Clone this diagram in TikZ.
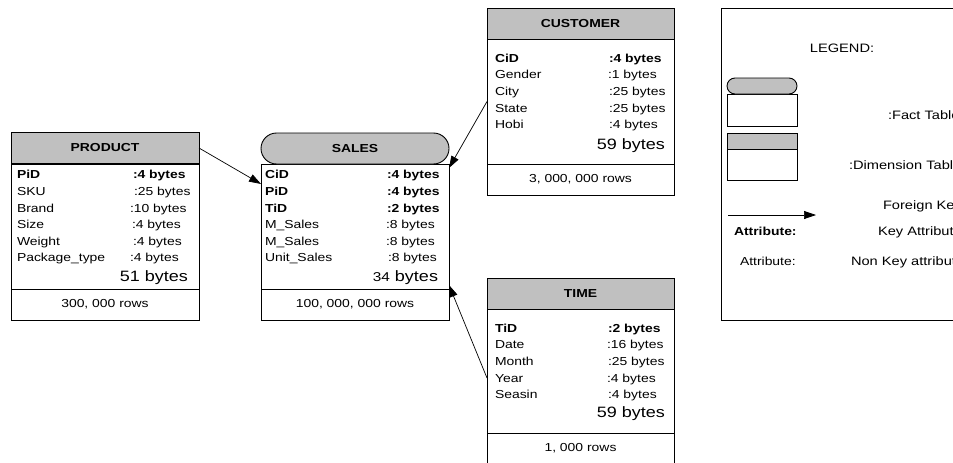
\documentclass[tikz,border=0pt]{standalone}
\usepackage{fontspec}
\setmainfont{Liberation Sans}[FakeStretch=1.2]
\usetikzlibrary{shapes.misc,arrows.meta}
\definecolor{hdrgray}{RGB}{192,192,192}
\newcommand{\rowfont}{\fontsize{11.6}{14}\selectfont}
\newcommand{\sumfont}{\fontsize{15}{18}\selectfont}
\newcommand{\legfont}{\fontsize{12.2}{15}\selectfont}

\begin{document}
\begin{tikzpicture}[x=1pt, y=-1pt, line width=0.9pt,
  every node/.style={outer sep=0pt, inner sep=0pt, font=\rowfont},
  hdr/.style={draw, fill=hdrgray, minimum width=188pt, minimum height=31pt, font=\rowfont\bfseries},
  pill/.style={draw, fill=hdrgray, rounded rectangle, minimum width=188pt, minimum height=31pt, font=\rowfont\bfseries},
  tbody/.style={draw, fill=white, minimum width=188pt, minimum height=125pt},
  tfoot/.style={draw, fill=white, minimum width=188pt, minimum height=31pt},
  attr/.style={anchor=base west},
  val/.style={anchor=base west},
  total/.style={anchor=base east, font=\sumfont},
  fk/.style={line width=0.7pt, -{Triangle[length=12pt,width=8pt]}}]
\useasboundingbox (0,0) rectangle (953,463);
\clip (0,0) rectangle (953,463);

\node[tbody] (prodb) at (105,226.5) {};
\node[hdr] (prodh) at (105,148) {PRODUCT};
\node[tfoot] (prodf) at (105,304.5) {300, 000 rows};
\node[attr] at (17,178) {\textbf{PiD}};
\node[attr] at (17,195) {SKU};
\node[attr] at (17,212) {Brand};
\node[attr] at (17,228) {Size};
\node[attr] at (17,245) {Weight};
\node[attr] at (17,261) {Package\_type};
\node[val] at (133,178) {\textbf{:4 bytes}};
\node[val] at (134,195) {:25 bytes};
\node[val] at (130,212) {:10 bytes};
\node[val] at (132,228) {:4 bytes};
\node[val] at (133,245) {:4 bytes};
\node[val] at (130,261) {:4 bytes};
\node[total] at (188,281) {51 bytes};

\node[tbody] (salesb) at (355,226.5) {};
\node[pill] (salesh) at (355,148.5) {SALES};
\node[tfoot] (salesf) at (355,304.5) {100, 000, 000 rows};
\node[attr] at (265,178) {\textbf{CiD}};
\node[attr] at (265,195) {\textbf{PiD}};
\node[attr] at (265,212) {\textbf{TiD}};
\node[attr] at (265,228) {M\_Sales};
\node[attr] at (265,245) {M\_Sales};
\node[attr] at (265,261) {Unit\_Sales};
\node[val] at (387,178) {\textbf{:4 bytes}};
\node[val] at (387,195) {\textbf{:4 bytes}};
\node[val] at (387,212) {\textbf{:2 bytes}};
\node[val] at (386,228) {:8 bytes};
\node[val] at (386,245) {:8 bytes};
\node[val] at (388,261) {:8 bytes};
\node[total] at (438,281) {{\fontsize{12.8}{15}\selectfont 34} bytes};

\node[tbody, minimum width=187pt] (custb) at (580.5,101.5) {};
\node[hdr, minimum width=187pt] (custh) at (580.5,23.5) {CUSTOMER};
\node[tfoot, minimum width=187pt] (custf) at (580.5,179.5) {3, 000, 000 rows};
\node[attr] at (495,62) {\textbf{CiD}};
\node[attr] at (495,78) {Gender};
\node[attr] at (495,95) {City};
\node[attr] at (495,112) {State};
\node[attr] at (495,128) {Hobi};
\node[val] at (609,62) {\textbf{:4 bytes}};
\node[val] at (608,78) {:1 bytes};
\node[val] at (609,95) {:25 bytes};
\node[val] at (609,112) {:25 bytes};
\node[val] at (609,128) {:4 bytes};
\node[total] at (665,149) {59 bytes};

\node[tbody, minimum width=187pt, minimum height=124pt] (timeb) at (580.5,371) {};
\node[hdr, minimum width=187pt] (timeh) at (580.5,293.5) {TIME};
\node[tfoot, minimum width=187pt] (timef) at (580.5,448.5) {1, 000 rows};
\node[attr] at (495,332) {\textbf{TiD}};
\node[attr] at (495,348) {Date};
\node[attr] at (495,365) {Month};
\node[attr] at (495,382) {Year};
\node[attr] at (495,398) {Seasin};
\node[val] at (608,332) {\textbf{:2 bytes}};
\node[val] at (607,348) {:16 bytes};
\node[val] at (608,365) {:25 bytes};
\node[val] at (607,382) {:4 bytes};
\node[val] at (608,398) {:4 bytes};
\node[total] at (665,417) {59 bytes};

\draw[fk] (prodh.east) -- ([yshift=-20pt]salesb.north west);
\draw[fk] (custb.west) -- ([yshift=-4pt]salesb.north east);
\draw[fk] ([yshift=-7pt]timeb.west) -- ([yshift=4pt]salesb.south east);

\node[draw, minimum width=239pt, minimum height=312pt] (legend) at (840.5,164) {};
\node[font=\legfont] (legtitle) at (842,48) {LEGEND:};
\node[draw, fill=white, minimum width=70pt, minimum height=32pt] (factbody) at (762,110) {};
\node[draw, fill=hdrgray, rounded rectangle, minimum width=70pt, minimum height=16pt] (factcap) at (762,86) {};
\node[draw, fill=hdrgray, minimum width=70pt, minimum height=16pt] (dimhead) at (762,141) {};
\node[draw, fill=white, minimum width=70pt, minimum height=31pt] (dimbody) at (762,164.5) {};
\node[attr, font=\legfont] at (888,119) {:Fact Table};
\node[attr, font=\legfont] at (849,169) {:Dimension Table};
\coordinate (fkfrom) at (728,215);
\coordinate (fkto) at (816,215);
\draw[fk] (fkfrom) -- (fkto);
\node[attr, font=\legfont] at (883,209) {Foreign Key};
\node[attr] at (734,235) {\textbf{Attribute:}};
\node[attr, font=\legfont] at (878,235) {Key Attribute};
\node[attr] at (740,265) {Attribute:};
\node[attr, font=\legfont] at (851,265) {Non Key attribute};
\end{tikzpicture}
\end{document}
